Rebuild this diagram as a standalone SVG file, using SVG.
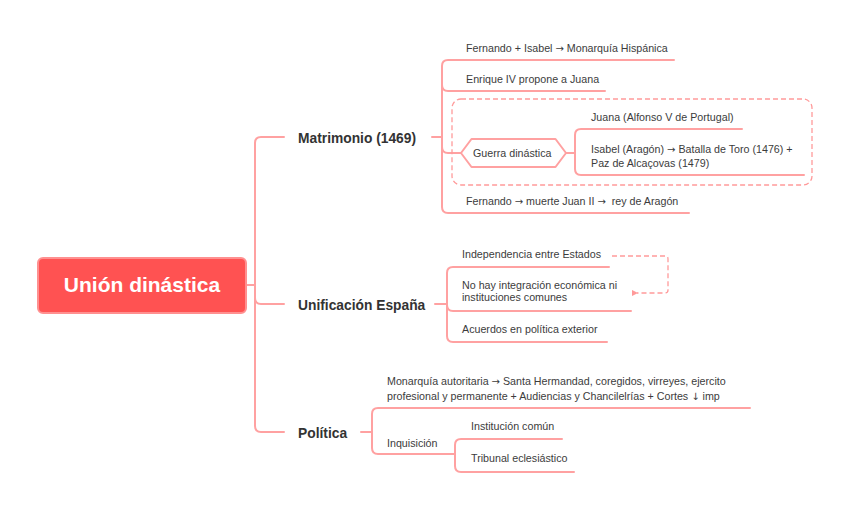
<svg xmlns="http://www.w3.org/2000/svg" width="848" height="510" viewBox="0 0 848 510">
<defs>
<style>
.ln{fill:none;stroke:#FFA1A1;stroke-width:2;stroke-linecap:round}
.dash{fill:none;stroke:#FF9A9A;stroke-width:1.3;stroke-dasharray:5 3}
.t{font-family:"Liberation Sans",Arial,sans-serif;font-size:10.7px;fill:#3c3c3c}
.a{font-family:"DejaVu Sans",sans-serif;font-size:10px}
.m{font-family:"Liberation Sans",Arial,sans-serif;font-size:13.8px;font-weight:bold;fill:#333333}
.r{font-family:"Liberation Sans",Arial,sans-serif;font-size:21px;font-weight:bold;fill:#ffffff}
</style>
<marker id="ah" viewBox="0 0 6 6" refX="1" refY="3" markerWidth="5" markerHeight="5" orient="auto-start-reverse">
<path d="M6 0 L0 3 L6 6 z" fill="#FF9A9A"/>
</marker>
</defs>
<rect width="848" height="510" fill="#ffffff"/>
<g id="connectors">
<path class="ln" d="M246 285 H255"/>
<path class="ln" d="M255 285 V143 Q255 137 261 137 H284"/>
<path class="ln" d="M255 285 V298 Q255 304 261 304 H284"/>
<path class="ln" d="M255 285 V426 Q255 432 261 432 H284"/>
<path class="ln" d="M432 137 H442"/>
<path class="ln" d="M442 137 V66 Q442 60 448 60 H674"/>
<path class="ln" d="M442 137 V85 Q442 91 448 91 H605"/>
<path class="ln" d="M442 137 V147 Q442 153 448 153 H461"/>
<path class="ln" d="M442 137 V207 Q442 213 448 213 H689"/>
<path class="ln" d="M566 153 H575"/>
<path class="ln" d="M575 153 V135 Q575 129 581 129 H742"/>
<path class="ln" d="M575 153 V169 Q575 175 581 175 H804"/>
<path class="ln" d="M435 304 H447"/>
<path class="ln" d="M447 304 V273 Q447 267 453 267 H609"/>
<path class="ln" d="M447 304 V305 Q447 311 453 311 H631"/>
<path class="ln" d="M447 304 V336 Q447 342 453 342 H607"/>
<path class="ln" d="M361 432 H372"/>
<path class="ln" d="M372 432 V414 Q372 408 378 408 H750"/>
<path class="ln" d="M372 432 V448 Q372 454 378 454 H455"/>
<path class="ln" d="M455 455 V445 Q455 439 461 439 H562"/>
<path class="ln" d="M455 455 V466 Q455 472 461 472 H574"/>
<rect class="dash" x="452" y="99" width="360" height="86" rx="9"/>
<path class="dash" d="M612 256 H665 Q668 256 668 259 V290 Q668 293 665 293 H637" marker-end="url(#ah)"/>
</g>
<g id="root">
<rect x="38" y="258" width="208" height="55" rx="5" fill="#FF5252" stroke="#FF9090" stroke-width="2"/>
<text class="r" x="142" y="292" text-anchor="middle">Unión dinástica</text>
</g>
<g id="matrimonio"><text class="m" x="298" y="143">Matrimonio (1469)</text></g>
<g id="fernando-isabel"><text class="t" x="466" y="52">Fernando + Isabel <tspan class="a">→</tspan> Monarquía Hispánica</text></g>
<g id="enrique"><text class="t" x="466" y="83">Enrique IV propone a Juana</text></g>
<g id="guerra">
<path d="M461 153 L471.5 139 H555.5 L566 153 L555.5 167 H471.5 Z" fill="#ffffff" stroke="#FFA1A1" stroke-width="2" stroke-linejoin="round"/>
<text class="t" x="473" y="156.5">Guerra dinástica</text>
</g>
<g id="juana"><text class="t" x="591" y="121">Juana (Alfonso V de Portugal)</text></g>
<g id="isabel"><text class="t" x="591" y="153">Isabel (Aragón) <tspan class="a">→</tspan> Batalla de Toro (1476) +</text><text class="t" x="591" y="166.5">Paz de Alcaçovas (1479)</text></g>
<g id="fernando-rey"><text class="t" x="466" y="205" xml:space="preserve">Fernando <tspan class="a">→</tspan> muerte Juan II <tspan class="a">→</tspan>  rey de Aragón</text></g>
<g id="unificacion"><text class="m" x="298" y="310">Unificación España</text></g>
<g id="independencia"><text class="t" x="462" y="258">Independencia entre Estados</text></g>
<g id="integracion"><text class="t" x="462" y="288.5">No hay integración económica ni</text><text class="t" x="462" y="301">instituciones comunes</text></g>
<g id="acuerdos"><text class="t" x="462" y="332.5">Acuerdos en política exterior</text></g>
<g id="politica"><text class="m" x="298" y="437.5">Política</text></g>
<g id="monarquia"><text class="t" x="387" y="385">Monarquía autoritaria <tspan class="a">→</tspan> Santa Hermandad, coregidos, virreyes, ejercito</text><text class="t" x="387" y="399.5">profesional y permanente + Audiencias y Chancilelrías + Cortes <tspan class="a">↓</tspan> imp</text></g>
<g id="inquisicion"><text class="t" x="387" y="447">Inquisición</text></g>
<g id="institucion"><text class="t" x="471" y="430">Institución común</text></g>
<g id="tribunal"><text class="t" x="471" y="462">Tribunal eclesiástico</text></g>
</svg>
